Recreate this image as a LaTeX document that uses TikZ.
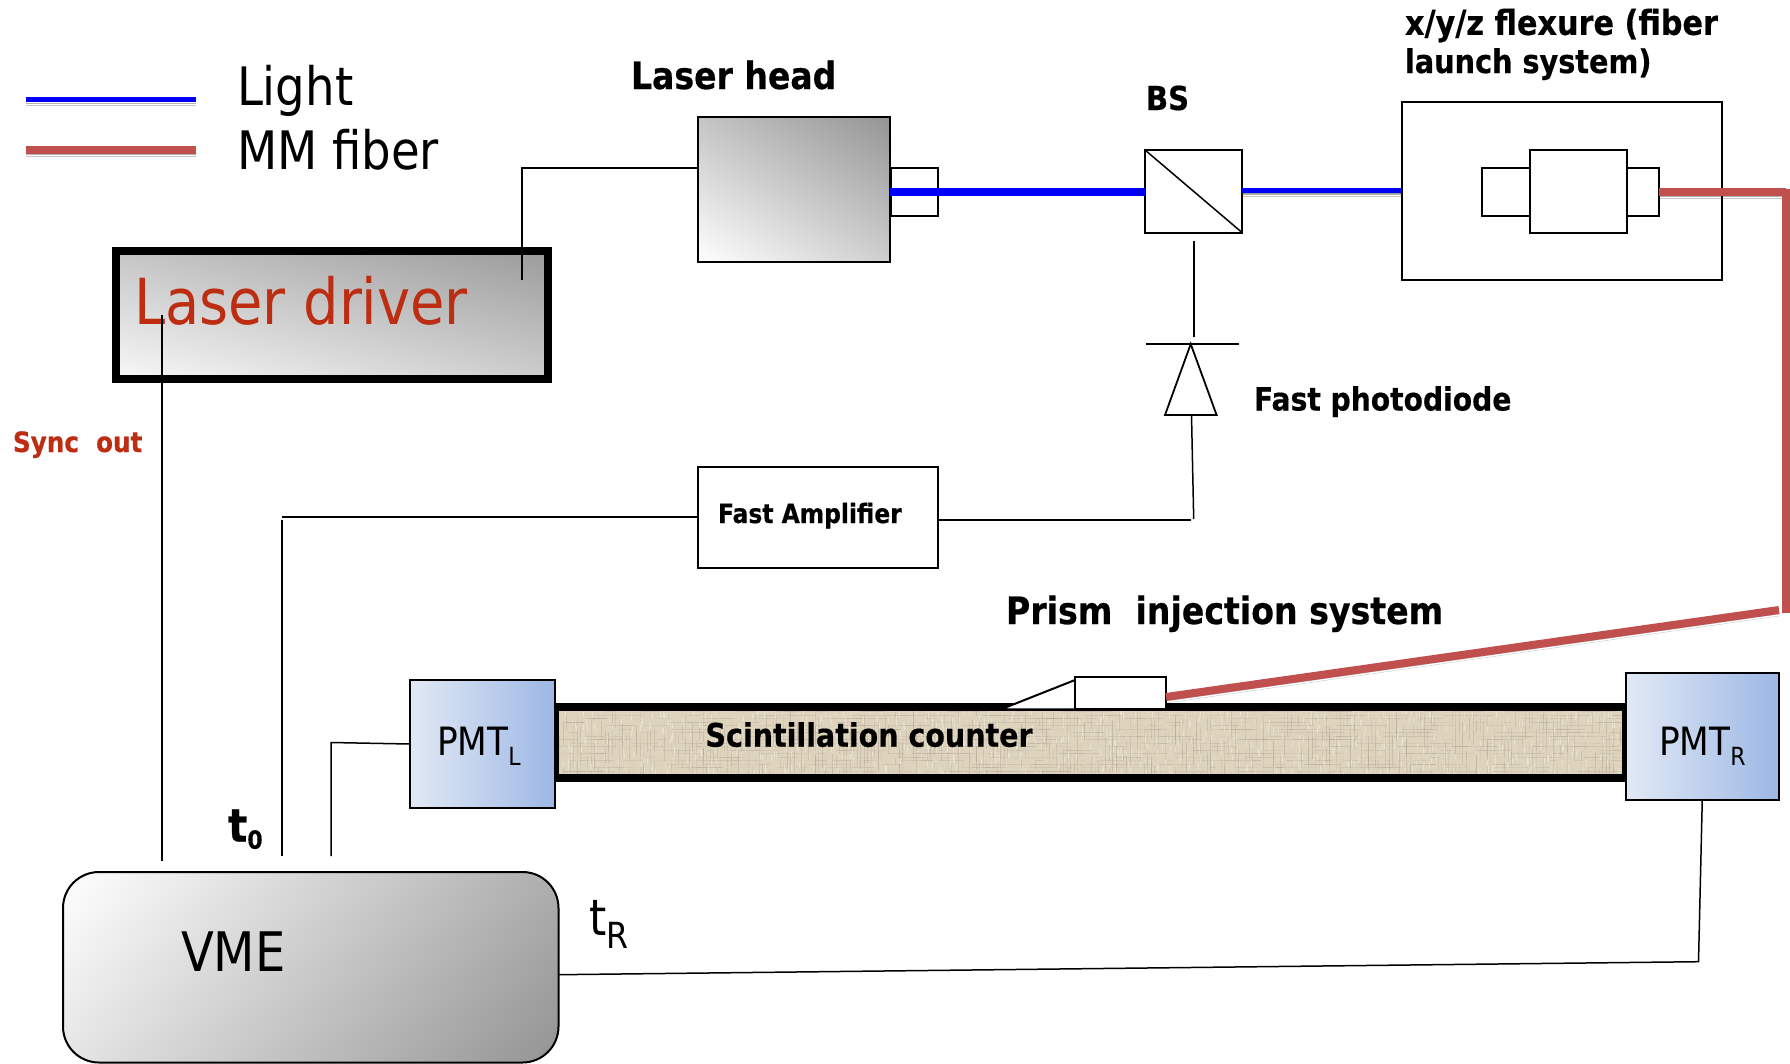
\documentclass[tikz,border=0pt]{standalone}
\usepackage{fontspec}
\setmainfont{DejaVu Sans}[FakeStretch=0.88,BoldFeatures={FakeBold=0.5}]
\usetikzlibrary{calc}
\definecolor{dlo}{RGB}{255,255,255}
\definecolor{dhi}{RGB}{148,148,148}
\definecolor{lightblue}{RGB}{0,0,250}
\definecolor{fiberred}{RGB}{192,80,77}
\definecolor{drvred}{RGB}{188,45,18}
\definecolor{pmtlo}{RGB}{226,233,245}
\definecolor{pmthi}{RGB}{157,184,229}
\definecolor{tan1}{RGB}{222,212,190}
\definecolor{tan2}{RGB}{180,170,150}
\definecolor{tan3}{RGB}{240,234,218}
\pgfdeclareverticalshading{dgrad}{100bp}{color(0bp)=(dlo); color(15bp)=(dlo); color(85bp)=(dhi); color(100bp)=(dhi)}
\newcommand{\fsz}[1]{\fontsize{#1}{#1}\selectfont}
\tikzset{
  every node/.style={inner sep=0pt,outer sep=0pt},
  thin line/.style={line width=1.5pt,black},
  grad/.style={shade,shading=dgrad,shading angle=#1},
  pmtbox/.style={draw=black,line width=2pt,shade,left color=pmtlo,right color=pmthi},
  lbl/.style={anchor=base west,text=black},
  soft/.style={preaction={draw=black,opacity=.22,transform canvas={yshift=-6pt}},
               preaction={draw=black,opacity=.3,transform canvas={yshift=-4pt}},
               preaction={draw=black,opacity=.4,transform canvas={yshift=-2.5pt}}},
  bluebeam/.style={draw=lightblue},
  redfiber/.style={draw=fiberred,line width=8pt,soft},
}
\begin{document}
\begin{tikzpicture}[x=1pt,y=-1pt]
\useasboundingbox (0,0) rectangle (1790,1063);
% legend
\coordinate (la) at (26,99); \coordinate (lb) at (196,99);
\coordinate (ma) at (26,150); \coordinate (mb) at (196,150);
\draw[bluebeam,line width=5pt,soft] (la) -- (lb);
\draw[redfiber] (ma) -- (mb);
\node[lbl,font=\fsz{53}] (tlight) at (237,105) {Light};
\node[lbl,font=\fsz{53}] (tmm) at (237,169) {MM fiber};

% laser driver
\node[grad=-14,draw=black,line width=8pt,minimum width=432.5pt,minimum height=128pt,anchor=north west] (drv) at (115.5,251) {};
\node[lbl,text=drvred,font=\fsz{63.5}] (tdrv) at (134,324) {Laser driver};
\node[lbl,text=drvred,font=\fsz{28}\bfseries] (tsync) at (13,452) {Sync\ \ out};

% laser head
\node[grad=-32,draw=black,line width=2.5pt,minimum width=192pt,minimum height=145pt,anchor=north west] (lh) at (698,117) {};
\node[lbl,font=\fsz{37.6}\bfseries] (tlh) at (631,89) {Laser head};
\node[draw=black,line width=2pt,minimum width=47pt,minimum height=48pt,anchor=north west] (lhs) at (891,168) {};
\node[lbl,font=\fsz{33}\bfseries] (tbs) at (1146,110) {BS};

% beam splitter
\node[draw=black,line width=2pt,minimum width=97pt,minimum height=82.5pt,anchor=north west] (bs) at (1145,150) {};
\draw[line width=1.5pt] (bs.north west) -- (bs.south east);

% flexure
\node[draw=black,line width=2pt,minimum width=320pt,minimum height=178pt,anchor=north west] (flex) at (1402,102) {};
\node[draw=black,line width=2pt,minimum width=97pt,minimum height=82.5pt,anchor=north west] (fc) at (1530,150) {};
\node[draw=black,line width=2pt,minimum width=48.5pt,minimum height=48pt,anchor=north east] (fl) at (1530,168) {};
\node[draw=black,line width=2pt,minimum width=32pt,minimum height=48pt,anchor=north west] (fr) at (1627,168) {};
\node[lbl,font=\fsz{32.6}\bfseries,align=left] (tflex) at (1405,73) {\fsz{34.4}x/y/z flexure (fiber\\[5.5pt]launch system)};

% beams
\coordinate (b1) at (891,192); \coordinate (b2) at (1145,192); \coordinate (b3) at (1242,190.5); \coordinate (b4) at (1402,190.5);
\draw[bluebeam,line width=7.5pt] (lh.east |- b1) -- (bs.west |- b2);
\draw[bluebeam,line width=5pt,soft] (bs.east |- b3) -- (flex.west |- b4);
\coordinate (fc0) at (1659,192);
\coordinate (fc1) at (1786,192);
\coordinate (fc2) at (1786,613);
\coordinate (fc3) at (1779,610);
\coordinate (fc4) at (1166,697);

% photodiode
\coordinate (dbar1) at (1146,344); \coordinate (dbar2) at (1238.6,344);
\draw[line width=1.8pt] (dbar1) -- (dbar2);
\coordinate (dtop) at (1190.7,344);
\coordinate (dl) at (1165,415); \coordinate (dr) at (1216.6,415);
\draw[line width=1.8pt] (dtop) -- (dl) -- (dr) -- cycle;
\coordinate (bsl) at (1193.7,241); \coordinate (dtl) at (1193.7,337);
\draw[line width=1.6pt] (bsl) -- (dtl);
\node[lbl,font=\fsz{32}\bfseries] (tfp) at (1254,410.5) {Fast photodiode};

% amplifier
\node[draw=black,line width=2pt,minimum width=240pt,minimum height=100.5pt,anchor=north west] (amp) at (698,467) {};
\node[lbl,font=\fsz{26.6}\bfseries] (tamp) at (718,523) {Fast Amplifier};
\coordinate (ampr) at (1191,520); \coordinate (dbase) at (1191.5,415); \coordinate (dlow) at (1193.7,519);
\draw[thin line] (amp.east |- ampr) -- (ampr);
\draw[thin line] (dbase) -- (dlow);

% scintillation counter
\fill[tan1] (555,707) rectangle (1626,778);
\begin{scope}
\clip (555,707) rectangle (1626,778);
\pgfmathsetseed{7}
\foreach \i in {1,...,900}{
  \pgfmathsetmacro{\xa}{556+3.5*int(rnd*305)}
  \pgfmathsetmacro{\ya}{708+rnd*68}
  \pgfmathsetmacro{\ln}{5+rnd*25}
  \pgfmathsetmacro{\op}{.1+rnd*.35}
  \draw[tan2,line width=.9pt,opacity=\op] (\xa,\ya) -- ++(0,\ln);
  \pgfmathsetmacro{\xb}{556+rnd*1068}
  \pgfmathsetmacro{\yb}{708+3.5*int(rnd*20)}
  \pgfmathsetmacro{\lm}{5+rnd*30}
  \pgfmathsetmacro{\oq}{.1+rnd*.3}
  \draw[tan2,line width=.9pt,opacity=\oq] (\xb,\yb) -- ++(\lm,0);
  \pgfmathsetmacro{\xc}{556+rnd*1068}
  \pgfmathsetmacro{\yc}{708+rnd*68}
  \draw[tan3,line width=.9pt,opacity=.6] (\xc,\yc) -- ++(0,6);
}
\end{scope}
\draw[line width=8pt,black] (555,706.7) rectangle (1626,778);
\node[lbl,font=\fsz{32.4}\bfseries] (tsc) at (705.5,746.7) {Scintillation counter};
\node[lbl,font=\fsz{37.7}\bfseries] (tpr) at (1006,624) {Prism\ \ injection system};

% prism
\coordinate (pa) at (1001,709.3); \coordinate (pb) at (1075,680); \coordinate (pc) at (1075,709.3);
\draw[fill=white,line width=2pt] (pa) -- (pb) -- (pc) -- cycle;
\node[draw=black,fill=white,line width=2pt,minimum width=91pt,minimum height=32.6pt,anchor=north west] (pr) at (1075,676.7) {};

% fiber
\draw[redfiber] (fr.east |- fc0) -- (fc1);
\draw[draw=fiberred,line width=7.5pt] (1786,189) -- (fc2);
\draw[redfiber] (fc3) -- (pr.east |- fc4);

% PMTs
\node[pmtbox,minimum width=144.5pt,minimum height=128pt,anchor=north west] (pl) at (410,680) {};
\node[lbl,font=\fsz{39}] (tpl) at (437,755) {PMT\raisebox{-10pt}{\fsz{25}L}};
\node[pmtbox,minimum width=152.5pt,minimum height=127pt,anchor=north west] (pmr) at (1626,673) {};
\node[lbl,font=\fsz{39}] (tpr2) at (1659,755.7) {PMT\raisebox{-10pt}{\fsz{25}R}};

% VME
\node[grad=-130,draw=black,line width=2pt,rounded corners=36pt,minimum width=495.5pt,minimum height=190.5pt,anchor=north west] (vme) at (63,872) {};
\node[lbl,font=\fsz{54.5}] (tvme) at (181,971) {VME};
\node[lbl,font=\fsz{46}\bfseries] (tt0) at (228,841.7) {t\raisebox{-7pt}{\fsz{25}0}};
\node[lbl,font=\fsz{50}] (ttr) at (589,935) {t\raisebox{-13pt}{\fsz{36}R}};

% connectors
\coordinate (drvt) at (522,280); \coordinate (drvk) at (522,168);
\draw[thin line] (drvt) -- (drvk) -- (lh.west |- drvk);
\coordinate (syt) at (162,315); \coordinate (syb) at (162,861);
\draw[thin line] (syt) -- (syb);
\coordinate (t0a) at (282,517); \coordinate (t0b) at (282,520); \coordinate (t0c) at (282,856);
\draw[thin line] (amp.west |- t0a) -- (t0a);
\draw[thin line] (t0b) -- (t0c);
\coordinate (pla) at (331,742.5); \coordinate (plb) at (331,856);
\draw[thin line] (pl.west) -- (pla) -- (plb);
\coordinate (prk) at (1698.5,961.7); \coordinate (vmr) at (559,974.7);
\draw[thin line] (pmr.south) -- (prk) -- (vme.east |- vmr);
\end{tikzpicture}
\end{document}
